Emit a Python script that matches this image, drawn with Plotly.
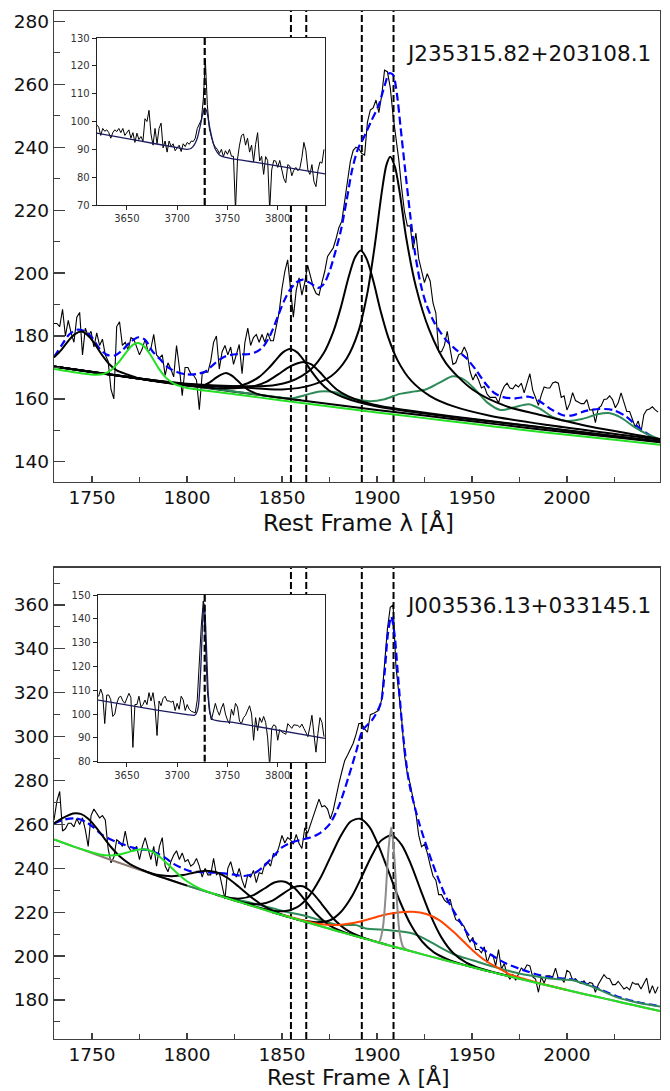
import plotly.graph_objects as go

# ---------------- data ----------------
WAVE_START = 1730.0
WAVE_STEP = 1.5
INSET_START = 3620.0
INSET_STEP = 2.0

LINE_WAVES = [1854.72, 1862.79, 1892.03, 1908.73]
OII_WAVE = 3727.4
NAMES = ["J235315.82+203108.1", "J003536.13+033145.1"]

top_flux = [
    184, 184, 183, 188.5, 180, 185, 181, 178, 186, 187.5,
    174, 182.5, 180, 181.5, 176.5, 181, 177, 179, 174, 172,
    163, 160, 183, 184.5, 177, 178, 175.5, 179.5, 179, 176.5,
    174, 176, 179, 175, 176, 180.5, 174, 173, 174, 167.5,
    171.5, 169.5, 167, 177, 170, 161, 170, 170, 168, 167.5,
    166, 156.6, 168, 168.5, 168.5, 172, 178, 180, 169.5, 175,
    177, 174, 176.5, 171, 174, 177.3, 168, 178, 182.5, 177,
    179.5, 180.5, 178, 180.5, 178, 181, 178.5, 178.5, 183, 187.5,
    195, 200.5, 204.2, 194, 186, 194.5, 198.5, 193, 197, 202.5,
    199, 195.5, 193.5, 193, 197, 200.5, 205.3, 206.5, 208, 211,
    214.5, 216.5, 223, 229.6, 235.5, 239, 240, 239.5, 238, 237.5,
    248, 251.8, 252.5, 255, 251, 256.5, 264.5, 264, 259, 250,
    243.4, 236, 227, 219.5, 215, 215, 207.5, 212.7, 204.5, 200.5,
    197, 199.8, 197.5, 190.5, 187.3, 175, 175, 177, 181.5, 176,
    171, 171.5, 174, 174.5, 176.5, 174.5, 168.8, 166, 168, 166,
    163.5, 164, 161.5, 160.5, 160.5, 160.5, 158.7, 162, 164, 165,
    163.5, 163.2, 164.5, 163.8, 165, 161.9, 165, 168, 162.8, 160.2,
    158, 161.2, 163.8, 163.5, 163.5, 165.1, 165.4, 165, 160.5, 161,
    156.5, 158.5, 162, 159.5, 159, 158.5, 158.5, 159.8, 156.5, 156.6,
    152.5, 157, 157.8, 159.8, 160, 161, 159.8, 157.2, 158.8, 161.9,
    159, 156, 156, 153.5, 151, 153, 149.5, 155, 156.5, 156.8,
    157.5, 156.5, 155.8,
]

bot_flux = [
    262, 270.5, 275, 257, 258, 260.5, 260.5, 258.9, 262.7, 260,
    263, 257.5, 250, 264, 267, 265, 263, 264, 262, 249,
    242.5, 245, 253, 252, 250, 257, 250, 248, 248.5, 250,
    244, 250, 254, 249, 244, 250, 241, 250, 254, 241,
    238.4, 243, 246, 248, 244, 247, 243, 244, 241, 242,
    244.5, 241, 236, 240, 237, 237, 244.5, 237, 238, 232,
    226, 240, 243, 238, 236, 240, 234.6, 231, 237, 236,
    239, 233.5, 238, 237.5, 242, 243, 241, 246.7, 246, 250,
    255, 251.5, 254, 253, 251, 255.5, 251.3, 249, 258.5, 256,
    260, 263.5, 268, 271.5, 268, 268.5, 267, 262.5, 266.5, 273,
    278.7, 284, 289, 291.5, 294, 297, 301, 306, 306, 303.5,
    302, 310, 310.5, 311.3, 312, 317, 334, 349, 359, 360,
    331.9, 319, 308, 291.5, 283.2, 278.5, 271.5, 265, 255, 249.8,
    251, 247, 241.5, 236.5, 234.6, 228, 228, 225.5, 224.3, 226,
    220.5, 216.6, 215.8, 214.8, 213.3, 209, 206.5, 208.5, 203, 203,
    201.5, 204.2, 197, 200.5, 200.5, 195.5, 203, 194, 196.6, 191.5,
    189.5, 191.5, 189, 192, 194.5, 193.6, 196, 195.5, 190.5, 189.5,
    183.5, 190.5, 187.7, 191, 191, 190.5, 194.5, 189.7, 190, 188,
    193.5, 192.6, 189, 189.7, 188.2, 187.5, 188.7, 186.7, 188, 187.5,
    183.5, 187, 189.5, 191.5, 190, 189.7, 187, 187, 188.5, 186.5,
    185, 185.8, 184.6, 188, 187.2, 187.3, 185, 187.5, 190, 183,
    186.5, 183, 186,
]

top_inset_flux = [
    98.8, 98, 95, 97.5, 96.5, 97, 96, 94, 96, 97,
    96.4, 97.5, 96, 97.5, 95, 96, 97, 94, 96, 92.5,
    95.8, 93.5, 94.6, 93, 101, 100, 104, 95.5, 91.5, 97.5,
    92, 97.5, 99.4, 90.5, 93, 89, 93, 91, 92, 89.5,
    90.5, 91.5, 89.2, 92, 91, 92.5, 91.8, 93, 92.8, 94,
    97.5, 99, 100.6, 108, 122.4, 106, 97.5, 94.5, 92, 90.8,
    90, 88.5, 90, 87.4, 89.5, 88.2, 90, 87.5, 87.5, 68,
    86.5, 91.5, 95, 95.5, 91.5, 94, 89, 91.5, 85.5, 91.8,
    96, 85.8, 87.5, 81, 87.4, 86, 68, 82.6, 86, 85.8,
    83.5, 86, 83, 79.5, 78, 84.5, 84, 80.5, 82.5, 83.5,
    82.3, 83.2, 87, 92.5, 89.5, 82.5, 81, 84.5, 78.4, 76.6,
    82.5, 85.5, 85, 90,
]

bot_inset_flux = [
    108, 107.5, 110.5, 108, 96, 108, 108, 106, 99, 100,
    104.5, 107, 107.5, 105.5, 104.5, 106.5, 108.7, 107, 86, 104,
    104, 107.5, 103, 104, 105.9, 104, 109, 105.5, 109, 103,
    91, 105.5, 103.5, 106.5, 107.5, 105.5, 105.5, 105, 105.5, 101.5,
    104.5, 102, 107.5, 106, 101.5, 104, 102, 101.2, 101, 100.5,
    106, 122, 137, 147.5, 132, 110, 101.5, 97.5, 100.5, 104.5,
    101.5, 99.5, 102.5, 104.5, 100, 97.5, 96, 102, 99.5, 104.5,
    103, 97, 96, 98.5, 99.5, 101.5, 103.5, 100, 89, 98.5,
    93, 98.5, 96.5, 99, 96.5, 90, 78, 94, 95.5, 95,
    89, 93.5, 92.5, 92, 91.5, 96, 95, 94, 95.5, 95.5,
    95.2, 94.4, 95.8, 94, 92.5, 90.5, 94.7, 99.5, 91.5, 84,
    91.9, 98.5, 96.5, 90.5,
]

# inset models (wavelength, flux)
top_inset_model = [(3620, 95.8), (3660, 93.2), (3700, 90.6), (3710, 90.0), (3714, 90.4),
                   (3717, 91.6), (3720, 94.0), (3723, 98.5), (3725.5, 102.8), (3727.5, 104.8),
                   (3729.5, 103.5), (3732, 98.5), (3735, 93.5), (3738, 90.0), (3742, 88.0),
                   (3747, 87.2), (3780, 85.2), (3847, 81.2)]
bot_inset_model = [(3620, 106.0), (3680, 101.7), (3710, 99.8), (3717, 99.5), (3719, 100.2),
                   (3721, 103.0), (3723, 115.0), (3724.5, 130.0), (3726, 144.0), (3726.8, 146.5),
                   (3728, 140.0), (3729.5, 124.0), (3731, 108.0), (3733, 100.0), (3735, 97.8),
                   (3760, 96.2), (3847, 89.8)]

# ---- top panel model components (wavelength, flux) ----
top_total = [(1730, 173.3), (1734, 177.0), (1738, 180.5), (1742, 182.0), (1746, 181.6), (1750, 179.5),
             (1754, 176.0), (1758, 174.0), (1762, 173.8), (1766, 175.5), (1770, 178.0), (1774.5, 179.6),
             (1778, 178.8), (1782, 175.0), (1786, 172.5), (1790, 170.0), (1795, 168.5), (1800, 167.8),
             (1805, 167.9), (1810, 168.8), (1815, 171.5), (1820, 173.5), (1826, 174.2), (1832, 174.2),
             (1836, 174.8), (1840, 176.5), (1844, 180.5), (1848, 186.5), (1851, 191.0), (1854, 194.5),
             (1857.5, 197.0), (1861, 197.9), (1865, 196.8), (1869, 195.3), (1872, 196.5), (1875, 200.5),
             (1878, 206.5), (1881, 213.5), (1884, 223.0), (1887, 233.0), (1890, 239.5), (1893, 243.0),
             (1897, 248.3), (1901, 253.5), (1904, 259.5), (1906.5, 263.5), (1908.5, 263.0), (1910.5, 257.0),
             (1912.5, 246.0), (1915, 232.0), (1917.5, 218.5), (1920, 206.5), (1923, 196.5), (1926, 190.0),
             (1930, 184.5), (1936, 179.0), (1941, 176.0), (1947, 173.0), (1952, 169.3), (1957, 165.0),
             (1962, 161.8), (1967, 160.5), (1973, 160.2), (1980, 160.7), (1985, 159.5), (1992, 156.6),
             (1998, 154.8), (2003, 154.8), (2010, 156.2), (2017, 156.8), (2024, 156.5), (2031, 154.5),
             (2038, 150.8), (2044, 148.3), (2049, 146.9)]
top_base = [(1730, 170.3), (1750, 168.5), (1775, 166.4), (1800, 164.3), (1825, 162.3), (1850, 160.3),
            (1875, 158.4), (1900, 156.5), (1925, 154.7), (1950, 152.9), (1975, 151.1), (2000, 149.4),
            (2025, 147.8), (2049, 146.2)]
top_lime = [(1730, 169.5), (1745, 168.1), (1752, 167.7), (1756, 167.9), (1760, 169.1), (1764, 171.6),
            (1768, 174.8), (1771.5, 177.2), (1774.5, 177.75), (1777.5, 176.7), (1781, 173.8),
            (1785, 169.8), (1789, 166.7), (1793, 164.9), (1797, 164.0), (1800, 163.5), (1825, 161.5),
            (1850, 159.5), (1875, 157.6), (1900, 155.7), (1925, 153.9), (1950, 152.1), (1975, 150.3),
            (2000, 148.6), (2025, 147.0), (2049, 145.4)]
top_feiii = [(1730, 170.2), (1770, 166.9), (1810, 163.6), (1845, 160.8), (1855, 160.2), (1862, 161.2),
             (1870, 162.4), (1878, 162.1), (1886, 160.3), (1896, 159.3), (1904, 159.9), (1912, 161.6),
             (1920, 162.4), (1926, 163.1), (1933, 165.2), (1940, 167.2), (1946, 166.1), (1952, 162.8),
             (1958, 158.9), (1965, 156.5), (1972, 157.3), (1980, 158.3), (1986, 156.8), (1993, 154.1),
             (2000, 153.0), (2008, 153.6), (2016, 155.1), (2022, 155.5), (2028, 154.2), (2035, 151.3),
             (2042, 148.9), (2049, 147.2)]
top_c1745 = [(1730, 173.2), (1734, 175.7), (1738, 178.8), (1741, 180.6), (1744.5, 181.4), (1748, 180.1),
             (1751, 177.9), (1755, 174.2), (1759, 171.1), (1763, 169.1), (1768, 167.9), (1775, 166.5),
             (1800, 164.3)]
top_c1821 = [(1780, 166.0), (1795, 164.8), (1803, 164.1), (1808, 164.2), (1812, 165.3), (1815, 166.6),
             (1818, 167.75), (1821, 168.2), (1824, 167.25), (1827, 165.6), (1830, 163.9), (1834, 162.3),
             (1839, 161.3), (1860, 159.6)]
top_c1854 = [(1730, 170.3), (1775, 166.4), (1800, 164.4), (1815, 164.0), (1825, 163.8), (1832, 165.0),
             (1838, 167.0), (1843, 169.8), (1847, 172.5), (1850.5, 174.8), (1854.2, 175.9), (1858, 174.8),
             (1861.5, 172.3), (1865.5, 168.8), (1870, 165.3), (1875, 162.6), (1882, 160.6), (1890, 159.0),
             (1900, 157.6), (1915, 156.2), (1940, 154.2), (1980, 151.4), (2049, 146.4)]
top_c1862 = [(1730, 170.3), (1775, 166.4), (1800, 164.4), (1815, 163.4), (1825, 163.4), (1835, 164.0),
             (1842, 165.5), (1848, 167.8), (1853, 169.9), (1857.5, 171.2), (1861.5, 171.7), (1865.5, 171.0),
             (1869.5, 168.8), (1874, 165.8), (1879, 162.9), (1885, 160.8), (1893, 159.0), (1903, 157.6),
             (1915, 156.5), (1940, 154.4), (1980, 151.5), (2049, 146.5)]
top_c1892 = [(1730, 170.3), (1775, 166.5), (1800, 164.8), (1830, 164.0), (1845, 164.3), (1855, 165.7),
             (1865, 169.3), (1872, 174.6), (1877, 181.3), (1881, 189.1), (1885, 198.5), (1888.5, 205.0),
             (1891.5, 207.2), (1894.5, 204.6), (1898, 197.7), (1902, 187.8), (1906, 179.5), (1911, 172.1),
             (1918, 165.8), (1928, 160.9), (1940, 157.7), (1960, 154.6), (1990, 151.7), (2049, 147.0)]
top_c1908 = [(1730, 170.3), (1775, 166.5), (1800, 164.7), (1830, 163.6), (1850, 163.0), (1865, 164.3),
             (1876, 167.3), (1884, 172.8), (1890, 181.0), (1895, 193.8), (1899, 209.4), (1902.5, 225.6),
             (1905, 234.4), (1907, 237.0), (1909.5, 233.7), (1912, 225.6), (1915.3, 211.6), (1920.5, 195.7),
             (1927.5, 182.0), (1936.3, 171.4), (1950.3, 163.0), (1967.9, 157.7), (1985.4, 155.0),
             (2010, 151.5), (2049, 147.3)]

# ---- bottom panel model components ----
bot_total = [(1730, 260.4), (1736, 262.3), (1742, 262.7), (1747, 261.0), (1751, 258.5), (1755, 255.5),
             (1759, 253.5), (1763, 252.0), (1767, 250.7), (1771.5, 249.4), (1776, 248.6), (1780, 248.3),
             (1784.5, 246.7), (1789, 244.5), (1793, 242.0), (1797.5, 240.0), (1802, 238.6), (1807, 238.3),
             (1815, 238.0), (1824, 237.2), (1830, 236.5), (1835, 237.5), (1840, 240.5), (1845, 245.0),
             (1850, 249.5), (1855, 251.8), (1860, 253.0), (1865, 254.0), (1870, 256.0), (1875, 260.0),
             (1880, 268.5), (1885, 281.5), (1889, 293.0), (1892.5, 303.0), (1897.5, 307.6), (1902, 315.2),
             (1904, 328.8), (1905.8, 347.1), (1907.5, 354.7), (1909.2, 347.1), (1911, 328.8),
             (1913.5, 303.0), (1917, 278.7), (1922.3, 260.4), (1929.3, 242.2), (1936.3, 227.0),
             (1943.3, 216.4), (1950.3, 207.2), (1959, 201.2), (1968, 196.6), (1977, 193.6),
             (1985.5, 191.3), (1994, 190.0), (2003, 189.3), (2013.5, 186.3), (2025.8, 181.8),
             (2037, 179.0), (2049, 177.2)]
bot_cont = [(1730, 253.1), (1740, 250.0), (1750, 247.0), (1760, 243.8), (1770, 240.8), (1780, 237.9),
            (1790, 235.0), (1800, 232.1), (1810, 229.4), (1820, 226.7), (1830, 224.0), (1840, 221.3),
            (1850, 218.7), (1860, 216.2), (1870, 213.7), (1880, 211.2), (1890, 208.8), (1900, 206.4),
            (1910, 204.0), (1920, 201.7), (1930, 199.4), (1940, 197.2), (1950, 195.0), (1960, 192.8),
            (1970, 190.7), (1980, 188.6), (1990, 186.6), (2000, 184.5), (2010, 182.5), (2020, 180.6),
            (2030, 178.6), (2040, 176.7), (2049, 175.0)]
bot_lime = [(1730, 253.1), (1740, 250.0), (1748, 247.8), (1754, 246.3), (1760, 245.8), (1765, 246.4),
            (1770, 247.6), (1775, 248.6), (1780, 248.2), (1785, 245.7), (1790, 241.8), (1795, 237.6),
            (1800, 234.1), (1806, 231.1), (1812, 229.0), (1820, 226.7), (1830, 224.0), (1840, 221.3),
            (1850, 218.7), (1860, 216.2), (1870, 213.7), (1880, 211.2), (1890, 208.8), (1900, 206.4),
            (1910, 204.0), (1920, 201.7), (1930, 199.4), (1940, 197.2), (1950, 195.0), (1960, 192.8),
            (1970, 190.7), (1980, 188.6), (1990, 186.6), (2000, 184.5), (2010, 182.5), (2020, 180.6),
            (2030, 178.6), (2040, 176.7), (2049, 175.0)]
bot_feiii = [(1800, 232.1), (1820, 227.0), (1835, 224.0), (1852, 220.2), (1861, 218.6), (1870, 216.4),
             (1880, 214.1), (1889, 214.1), (1894, 212.6), (1906.5, 211.8), (1918.8, 210.3), (1926, 207.5),
             (1932.8, 204.2), (1941, 200.6), (1950.3, 198.1), (1960, 195.5), (1967.9, 193.6), (1976, 191.8),
             (1985.4, 190.5), (1994, 189.5), (2003, 189.0), (2013.5, 186.0), (2025.8, 181.4),
             (2037, 178.8), (2049, 177.0)]
bot_orange = [(1850, 218.8), (1860, 216.5), (1870, 214.6), (1880, 214.2), (1890.7, 215.6), (1903, 218.6),
              (1911, 219.9), (1918.8, 220.2), (1926, 219.2), (1932.8, 216.4), (1941, 210.5), (1950.3, 202.7),
              (1957, 198.0), (1964.4, 194.3), (1970, 191.6), (1976.7, 189.8), (1984.5, 187.9),
              (1992, 186.2), (2000, 184.5)]
bot_narrow = [(1898, 206.9), (1901, 206.3), (1903, 212.3), (1904.5, 226.6), (1906, 247.8), (1907.5, 258.6),
              (1909, 247.1), (1910.5, 225.2), (1912, 210.2), (1914, 203.8), (1917, 202.4)]
bot_c1744 = [(1730, 260.5), (1735, 263.1), (1740, 265.0), (1744, 264.8), (1748, 262.6), (1752, 258.8),
             (1756, 254.2), (1760, 249.7), (1765, 245.1), (1770, 241.9), (1776, 239.4), (1782, 237.3),
             (1790, 235.0), (1800, 232.1)]
bot_c1815 = [(1776, 239.4), (1780, 238.1), (1785, 236.9), (1792, 236.4), (1798, 236.9), (1804, 238.1),
             (1810, 238.9), (1815.5, 238.2), (1821, 235.8), (1827, 231.8), (1833, 227.4), (1839, 223.6),
             (1846, 220.4), (1855, 217.5), (1865, 215.0)]
bot_c1852 = [(1815, 228.1), (1820, 226.9), (1828, 226.2), (1835, 227.8), (1841, 230.9),
             (1846, 233.5), (1851.5, 233.9), (1857, 230.7), (1862, 225.6), (1868, 219.3), (1875, 214.0),
             (1883, 210.8), (1895, 207.6)]
bot_c1861 = [(1820, 226.8), (1830, 224.3), (1838, 223.6), (1845, 225.3), (1851, 228.7),
             (1856, 231.3), (1861, 231.8), (1866, 228.8), (1871, 223.6), (1877, 217.1), (1884, 211.9),
             (1892, 208.6), (1905, 205.2)]
bot_c1891 = [(1830, 224.0), (1845, 220.7), (1852, 220.5), (1858, 222.3), (1864, 227.0), (1870, 235.2),
             (1876, 246.0), (1881, 254.8), (1886, 261.2), (1891, 262.6), (1896, 258.9), (1901, 250.0),
             (1906, 238.8), (1912, 225.1), (1918, 214.0), (1924, 206.4), (1930, 201.7), (1937, 198.6),
             (1945, 196.2), (1960, 192.8)]
bot_c1908 = [(1845, 220.0), (1860, 216.4), (1868, 215.4), (1875, 216.2), (1881, 220.1), (1887, 227.5),
             (1892, 236.2), (1897, 245.3), (1902, 252.5), (1907.8, 255.0), (1913, 250.7), (1918, 241.6),
             (1923, 230.1), (1928, 219.0), (1934, 208.4), (1940, 201.5), (1947, 197.0), (1955, 194.2),
             (1970, 190.7)]

# ---------------- layout geometry ----------------
W, H = 670, 1091
ML, MR, MT, MB = 54, 10, 11, 52
XRANGE = [1730, 2049]
TOP_YRANGE = [133.6, 283.3]
BOT_YRANGE = [162.2, 377.0]
TOP_INSET_XRANGE = [3620, 3847]
BOT_INSET_XRANGE = [3621, 3847]
TOP_INSET_YRANGE = [70, 130]
BOT_INSET_YRANGE = [80, 150]

FONT = "DejaVu Sans"
BLACK = "#000000"


def unzip(pairs):
    return [p[0] for p in pairs], [p[1] for p in pairs]


def grid(start, step, values):
    return [start + step * i for i in range(len(values))]


fig = go.Figure()


def line(pairs, color, width, axes, dash=None, shape="spline"):
    xs, ys = unzip(pairs)
    fig.add_trace(go.Scatter(x=xs, y=ys, mode="lines", xaxis=axes[0], yaxis=axes[1],
                             line=dict(color=color, width=width, dash=dash, shape=shape,
                                       smoothing=0.8),
                             hoverinfo="skip", showlegend=False))


def vlines(waves, yr, axes, width=2):
    for w in waves:
        fig.add_trace(go.Scatter(x=[w, w], y=yr, mode="lines", xaxis=axes[0], yaxis=axes[1],
                                 line=dict(color=BLACK, width=width, dash="7px,3px"),
                                 hoverinfo="skip", showlegend=False))


SEAGREEN = "#2e8b57"
LIME = "#22e022"
BLUE = "#0000ff"
ORANGE = "#ff4500"
GRAY = "#8c8c8c"
BROWN = "#8c7b73"
NAVY = "#1a1a5e"

# ---- top main panel ----
A1 = ("x", "y")
vlines(LINE_WAVES, TOP_YRANGE, A1)
fig.add_trace(go.Scatter(x=grid(WAVE_START, WAVE_STEP, top_flux), y=top_flux, mode="lines",
                         line=dict(color=BLACK, width=1.1), hoverinfo="skip", showlegend=False))
line(top_total, BLUE, 2.2, A1, dash="8px,4px")
line(top_base, BLACK, 2, A1)
line(top_feiii, SEAGREEN, 2, A1)
for comp in (top_c1745, top_c1821, top_c1854, top_c1862, top_c1892, top_c1908):
    line(comp, BLACK, 2, A1)
line(top_lime, LIME, 2, A1)

# ---- top inset ----
A2 = ("x2", "y2")
fig.add_trace(go.Scatter(x=grid(INSET_START, INSET_STEP, top_inset_flux), y=top_inset_flux,
                         mode="lines", xaxis="x2", yaxis="y2",
                         line=dict(color=BLACK, width=1), hoverinfo="skip", showlegend=False))
line(top_inset_model, NAVY, 1.3, A2)
vlines([OII_WAVE], TOP_INSET_YRANGE, A2, width=2.2)

# ---- bottom main panel ----
A3 = ("x3", "y3")
vlines(LINE_WAVES, BOT_YRANGE, A3)
fig.add_trace(go.Scatter(x=grid(WAVE_START, WAVE_STEP, bot_flux), y=bot_flux, mode="lines",
                         xaxis="x3", yaxis="y3",
                         line=dict(color=BLACK, width=1.1), hoverinfo="skip", showlegend=False))
line(bot_total, BLUE, 2.2, A3, dash="8px,4px")
line(bot_cont, BROWN, 2, A3)
line(bot_feiii, SEAGREEN, 2, A3)
for comp in (bot_c1744, bot_c1815, bot_c1852, bot_c1861, bot_c1891, bot_c1908):
    line(comp, BLACK, 2, A3)
line(bot_orange, ORANGE, 2, A3)
line(bot_narrow, GRAY, 2, A3)
line(bot_lime, LIME, 2, A3)

# ---- bottom inset ----
A4 = ("x4", "y4")
fig.add_trace(go.Scatter(x=grid(INSET_START, INSET_STEP, bot_inset_flux), y=bot_inset_flux,
                         mode="lines", xaxis="x4", yaxis="y4",
                         line=dict(color=BLACK, width=1), hoverinfo="skip", showlegend=False))
line(bot_inset_model, NAVY, 1.3, A4)
vlines([OII_WAVE], BOT_INSET_YRANGE, A4, width=2.2)


# ---------------- axes ----------------
def px_x(p):
    return (p - ML) / (W - ML - MR)


def px_y(p):
    return (H - MB - p) / (H - MT - MB)


AX_COLOR = "#404040"
TICK_SIZE = 18.5


def main_x(dom_anchor):
    return dict(domain=[0, 1], range=XRANGE, anchor=dom_anchor, showline=True, mirror=True,
                automargin=False, ticklabelstandoff=-2,
                linecolor=AX_COLOR, linewidth=1.3, ticks="inside", ticklen=6, tickwidth=1.2,
                tickcolor=AX_COLOR, tick0=1750, dtick=50, showgrid=False, zeroline=False,
                tickfont=dict(family=FONT, size=TICK_SIZE, color="#111"),
                minor=dict(ticks="inside", ticklen=5, tickwidth=1, tickcolor=AX_COLOR, dtick=25,
                           tick0=1725, showgrid=False))


def main_y(dom, rng, anchor):
    return dict(domain=dom, range=rng, anchor=anchor, showline=True, mirror=True,
                automargin=False,
                linecolor=AX_COLOR, linewidth=1.3, ticks="inside", ticklen=11, tickwidth=1.2,
                tickcolor=AX_COLOR, tick0=0, dtick=20, showgrid=False, zeroline=False,
                tickfont=dict(family=FONT, size=TICK_SIZE, color="#111"),
                minor=dict(ticks="inside", ticklen=6, tickwidth=1, tickcolor=AX_COLOR, dtick=10,
                           tick0=0, showgrid=False))


def inset_x(dom, rng, anchor):
    return dict(domain=dom, range=rng, anchor=anchor, showline=True, mirror=True,
                automargin=False,
                linecolor="#222", linewidth=1, ticks="outside", ticklen=4, tickwidth=1,
                tickcolor="#222", tickvals=[3650, 3700, 3750, 3800], showgrid=False,
                zeroline=False, tickfont=dict(family=FONT, size=10, color="#333"))


def inset_y(dom, rng, anchor):
    return dict(domain=dom, range=rng, anchor=anchor, showline=True, mirror=True,
                automargin=False,
                linecolor="#222", linewidth=1, ticks="outside", ticklen=4, tickwidth=1,
                tickcolor="#222", dtick=10, tick0=0, showgrid=False, zeroline=False,
                tickfont=dict(family=FONT, size=10, color="#333"))


top_dom = [px_y(482), 1.0]
bot_dom = [0.0, px_y(567.7)]

fig.update_layout(
    width=W, height=H,
    margin=dict(l=ML, r=MR, t=MT, b=MB, autoexpand=False),
    paper_bgcolor="white", plot_bgcolor="white",
    showlegend=False, hovermode=False,
    font=dict(family=FONT, color="#111"),
    xaxis=main_x("y"),
    yaxis=main_y(top_dom, TOP_YRANGE, "x"),
    xaxis2=inset_x([px_x(96.7), px_x(325)], TOP_INSET_XRANGE, "y2"),
    yaxis2=inset_y([px_y(205), px_y(38)], TOP_INSET_YRANGE, "x2"),
    xaxis3=main_x("y3"),
    yaxis3=main_y(bot_dom, BOT_YRANGE, "x3"),
    xaxis4=inset_x([px_x(97.7), px_x(325)], BOT_INSET_XRANGE, "y4"),
    yaxis4=inset_y([px_y(761.7), px_y(595)], BOT_INSET_YRANGE, "x4"),
)

annots = [
    dict(text=NAMES[0], x=px_x(652), y=px_y(54), xanchor="right", yanchor="middle",
         font=dict(size=21.5)),
    dict(text=NAMES[1], x=px_x(652), y=px_y(606), xanchor="right", yanchor="middle",
         font=dict(size=21.5)),
    dict(text="Rest Frame λ [Å]", x=0.502, y=px_y(522), xanchor="center", yanchor="middle",
         font=dict(size=23)),
    dict(text="Rest Frame λ [Å]", x=0.502, y=px_y(1091), xanchor="center", yanchor="bottom",
         font=dict(size=22)),
]
for a in annots:
    a.update(xref="paper", yref="paper", showarrow=False, borderpad=0)
    a["font"].update(family=FONT, color="#111")
fig.update_layout(annotations=annots)

fig.write_html("out.html",
               config={"displayModeBar": False, "staticPlot": True},
               post_script="document.body.style.margin='0px';document.body.style.overflow='hidden';")
